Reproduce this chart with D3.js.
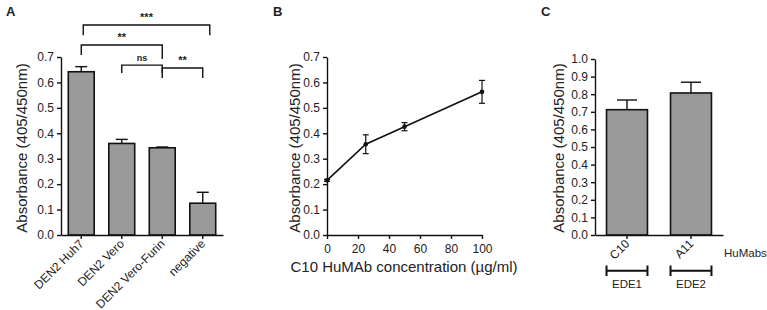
<!DOCTYPE html>
<html>
<head>
<meta charset="utf-8">
<script src="https://cdn.jsdelivr.net/npm/d3@7"></script>
<style>
  body { margin: 0; background: #fff; }
  svg { font-family: Arial, "Liberation Sans", sans-serif; }
  .axis path, .axis line { stroke: #111; stroke-width: 1.4px; }
  .axis text { fill: #222; font-size: 12px; }
</style>
</head>
<body>
<svg class="canvas" width="767" height="310"></svg>
<script>
'use strict';

// panel A
const aCategories = ['DEN2 Huh7', 'DEN2 Vero', 'DEN2 Vero-Furin', 'negative'];
const aMeans = [0.642, 0.360, 0.343, 0.125];
const aErrors = [0.020, 0.016, 0.003, 0.043];
const aTicks = [0, 0.1, 0.2, 0.3, 0.4, 0.5, 0.6, 0.7];
// significance brackets: from / to category index, top and leg ends in data units
const aBrackets = [
  { from: 0, to: 3, top: 0.826, left: 0.786, right: 0.786, label: '***' },
  { from: 0, to: 2, top: 0.747, left: 0.708, right: 0.692, label: '**' },
  { from: 1, to: 2, top: 0.668, left: 0.637, right: 0.637, label: 'ns' },
  { from: 2, to: 3, top: 0.657, left: 0.617, right: 0.617, label: '**' }
];

// panel B
const bConc = [0, 25, 50, 100];
const bMeans = [0.215, 0.357, 0.426, 0.563];
const bErrors = [0.004, 0.037, 0.016, 0.045];
const bXTicks = [0, 20, 40, 60, 80, 100];
const bYTicks = [0, 0.1, 0.2, 0.3, 0.4, 0.5, 0.6, 0.7];

// panel C
const cAntibodies = ['C10', 'A11'];
const cMeans = [0.712, 0.807];
const cErrors = [0.055, 0.061];
const cGroups = ['EDE1', 'EDE2'];
const cTicks = [0, 0.1, 0.2, 0.3, 0.4, 0.5, 0.6, 0.7, 0.8, 0.9, 1.0];

const yLabel = 'Absorbance (405/450nm)';
const barFill = '#9a9a9a';
const svg = d3.select('.canvas');

function panelLetter(x, text) {
  svg.append('text').attr('x', x).attr('y', 16)
    .attr('font-size', 13).attr('font-weight', 'bold').attr('fill', '#222')
    .text(text);
}

function yTitle(x, y) {
  svg.append('text')
    .attr('transform', `translate(${x},${y}) rotate(-90)`)
    .attr('text-anchor', 'middle')
    .attr('font-size', 15).attr('fill', '#222')
    .text(yLabel);
}

function errorBar(g, cx, yTop, yMid, capW) {
  g.append('line').attr('x1', cx).attr('x2', cx).attr('y1', yTop).attr('y2', yMid)
    .attr('stroke', '#111').attr('stroke-width', 1.4);
  g.append('line').attr('x1', cx - capW).attr('x2', cx + capW).attr('y1', yTop).attr('y2', yTop)
    .attr('stroke', '#111').attr('stroke-width', 1.4);
}

// rotated category labels under a band axis
function slantLabels(a) {
  a.selectAll('text')
    .attr('text-anchor', 'end')
    .attr('font-size', 10.5)
    .attr('dx', '-4.6').attr('dy', '2')
    .attr('transform', 'rotate(-45)');
}

// ---------------- A ----------------
(function () {
  const x = d3.scaleBand().domain(aCategories).range([61, 223]).paddingInner(0.36).paddingOuter(0.18);
  const y = d3.scaleLinear().domain([0, 0.7]).range([235, 57]);
  const g = svg.append('g');

  g.selectAll('.barA').data(aCategories).enter().append('rect')
    .attr('x', d => x(d)).attr('width', x.bandwidth())
    .attr('y', (d, i) => y(aMeans[i])).attr('height', (d, i) => y(0) - y(aMeans[i]))
    .attr('fill', barFill).attr('stroke', '#111').attr('stroke-width', 1.6);

  aCategories.forEach((c, i) => {
    const cx = x(c) + x.bandwidth() / 2;
    errorBar(g, cx, y(aMeans[i] + aErrors[i]), y(aMeans[i]), 6);
  });

  g.append('g').attr('class', 'axis').attr('transform', 'translate(61,0)')
    .call(d3.axisLeft(y).tickValues(aTicks).tickFormat(d3.format('.1f')).tickSize(4).tickSizeOuter(0));

  g.append('g').attr('class', 'axis').attr('transform', 'translate(0,235)')
    .call(d3.axisBottom(x).tickSize(4).tickSizeOuter(0))
    .call(slantLabels);

  aBrackets.forEach(b => {
    const x1 = x(aCategories[b.from]) + x.bandwidth() / 2;
    const x2 = x(aCategories[b.to]) + x.bandwidth() / 2 + (b.label === '***' ? 7 : 0);
    const xa = x1 + (b.label === '***' ? 2 : 0);
    g.append('path')
      .attr('d', `M${xa},${y(b.left)}V${y(b.top)}H${x2}V${y(b.right)}`)
      .attr('fill', 'none').attr('stroke', '#111').attr('stroke-width', 1.4);
    g.append('text')
      .attr('x', (xa + x2) / 2).attr('y', y(b.top) - 4)
      .attr('text-anchor', 'middle')
      .attr('font-size', b.label === 'ns' ? 9 : 11).attr('font-weight', 'bold').attr('fill', '#222')
      .text(b.label);
  });

  yTitle(27, 148);
  panelLetter(6, 'A');
})();

// ---------------- B ----------------
(function () {
  const x = d3.scaleLinear().domain([0, 100]).range([327, 482]);
  const y = d3.scaleLinear().domain([0, 0.7]).range([235, 57]);
  const g = svg.append('g');

  g.append('g').attr('class', 'axis').attr('transform', 'translate(327,0)')
    .call(d3.axisLeft(y).tickValues(bYTicks).tickFormat(d3.format('.1f')).tickSize(4).tickSizeOuter(0));
  g.append('g').attr('class', 'axis').attr('transform', 'translate(0,235)')
    .call(d3.axisBottom(x).tickValues(bXTicks).tickSize(4).tickSizeOuter(0))
    .call(a => a.selectAll('text').attr('dy', '0.95em'));

  const line = d3.line().x((d, i) => x(bConc[i])).y(d => y(d));
  g.append('path').datum(bMeans).attr('d', line)
    .attr('fill', 'none').attr('stroke', '#111').attr('stroke-width', 1.6);

  bConc.forEach((c, i) => {
    const cx = x(c);
    const yt = y(bMeans[i] + bErrors[i]), yb = y(bMeans[i] - bErrors[i]);
    g.append('line').attr('x1', cx).attr('x2', cx).attr('y1', yt).attr('y2', yb)
      .attr('stroke', '#111').attr('stroke-width', 1.2);
    [yt, yb].forEach(yy => g.append('line').attr('x1', cx - 3).attr('x2', cx + 3)
      .attr('y1', yy).attr('y2', yy).attr('stroke', '#111').attr('stroke-width', 1.2));
    g.append('circle').attr('cx', cx).attr('cy', y(bMeans[i])).attr('r', 2.3).attr('fill', '#111');
  });

  svg.append('text').attr('x', 404).attr('y', 272).attr('text-anchor', 'middle')
    .attr('font-size', 15).attr('fill', '#222')
    .text('C10 HuMAb concentration (\u00b5g/ml)');

  yTitle(300, 148);
  panelLetter(273, 'B');
})();

// ---------------- C ----------------
(function () {
  const x = d3.scaleBand().domain(cAntibodies).range([595, 723]).paddingInner(0.36).paddingOuter(0.18);
  const y = d3.scaleLinear().domain([0, 1.0]).range([235, 59]);
  const g = svg.append('g');

  g.selectAll('.barC').data(cAntibodies).enter().append('rect')
    .attr('x', d => x(d)).attr('width', x.bandwidth())
    .attr('y', (d, i) => y(cMeans[i])).attr('height', (d, i) => y(0) - y(cMeans[i]))
    .attr('fill', barFill).attr('stroke', '#111').attr('stroke-width', 1.6);

  cAntibodies.forEach((c, i) => {
    const cx = x(c) + x.bandwidth() / 2;
    errorBar(g, cx, y(cMeans[i] + cErrors[i]), y(cMeans[i]), 10);
  });

  g.append('g').attr('class', 'axis').attr('transform', 'translate(595,0)')
    .call(d3.axisLeft(y).tickValues(cTicks).tickFormat(d3.format('.1f')).tickSize(4).tickSizeOuter(0));
  g.append('g').attr('class', 'axis').attr('transform', 'translate(0,235)')
    .call(d3.axisBottom(x).tickSize(4).tickSizeOuter(0))
    .call(slantLabels);

  svg.append('text').attr('x', 724).attr('y', 257).attr('font-size', 11.5).attr('fill', '#222')
    .text('HuMabs');

  cGroups.forEach((grp, i) => {
    const x1 = x(cAntibodies[i]), x2 = x1 + x.bandwidth();
    g.append('path')
      .attr('d', `M${x1},265.5V276M${x1},270.7H${x2}M${x2},265.5V276`)
      .attr('fill', 'none').attr('stroke', '#111').attr('stroke-width', 2);
    g.append('text').attr('x', (x1 + x2) / 2).attr('y', 288).attr('text-anchor', 'middle')
      .attr('font-size', 11.5).attr('fill', '#222').text(grp);
  });

  yTitle(564, 148);
  panelLetter(541, 'C');
})();
</script>
</body>
</html>
